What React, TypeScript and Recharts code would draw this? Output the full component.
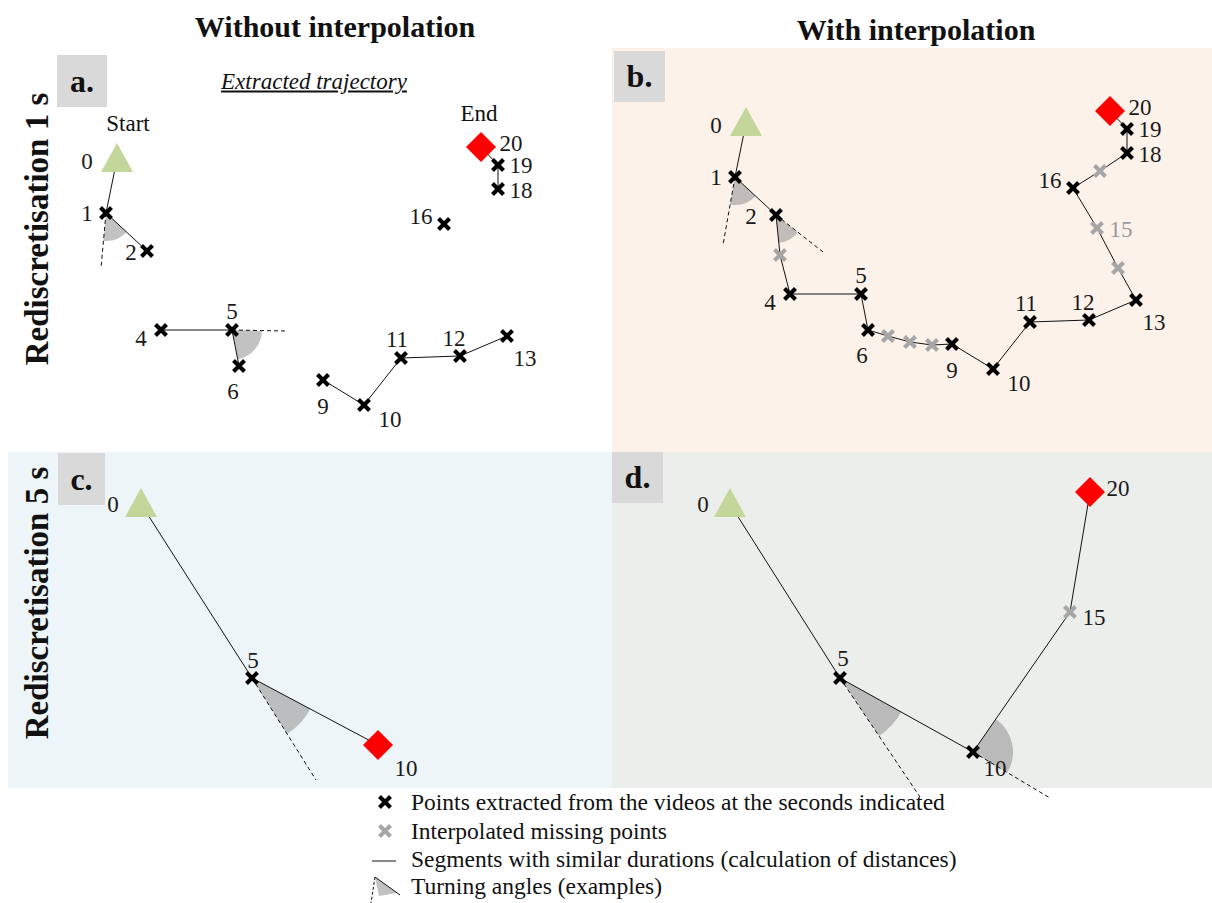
import { ScatterChart, Scatter, XAxis, YAxis } from "recharts";

const SERIF = '"Liberation Serif", "Times New Roman", Times, serif';

// 1 s rediscretisation, in panel b units (x to the right, y downwards)
const sec1X = [134, 123, 164, 168, 178, 249, 256, 276, 298, 320, 340, 381, 418, 477, 524, 506, 485, 461, 488, 515, 515, 498];
const sec1Y = [75, 129, 167, 207, 246, 246, 282, 288, 294, 297, 296, 321, 274, 272, 252, 220, 180, 140, 123, 105, 81, 63];
const sec1Label = ["0", "1", "2", "", "4", "5", "6", "", "", "", "9", "10", "11", "12", "13", "", "15", "16", "", "18", "19", "20"];
const sec1Kind = ["start", "obs", "obs", "interp", "obs", "obs", "obs", "interp", "interp", "interp", "obs", "obs", "obs", "obs", "obs", "interp", "interp", "obs", "interp", "obs", "obs", "end"];

// pieces that can be joined without interpolation (panel a)
const extractedRuns = [["0", "1", "2"], ["4", "5", "6"], ["9", "10", "11", "12", "13"], ["18", "19", "20"]];

// 5 s rediscretisation, without interpolation (panel c)
const sec5cX = [133, 244, 370];
const sec5cY = [52, 226, 293];
const sec5cLabel = ["0", "5", "10"];
const sec5cKind = ["start", "obs", "end"];

// 5 s rediscretisation, with interpolation (panel d)
const sec5dX = [118, 228, 361, 458, 478];
const sec5dY = [52, 226, 300, 160, 40];
const sec5dLabel = ["0", "5", "10", "15", "20"];
const sec5dKind = ["start", "obs", "obs", "interp", "end"];

// turning angles: vertex index, end of the dashed prolongation, next point index
const turnsA = [{ at: 1, ex: 118, ey: 184, next: 2 }, { at: 4, ex: 302, ey: 247, next: 5 }];
const turnsB = [{ at: 1, ex: 111, ey: 197, next: 2 }, { at: 2, ex: 211, ey: 204, next: 3 }];
const turnsC = [{ at: 1, ex: 308, ey: 328, next: 2 }];
const turnsD = [{ at: 1, ex: 308, ey: 345, next: 2 }, { at: 2, ex: 438, ey: 346, next: 3 }];

const legendItems = [
  "Points extracted from the videos at the seconds indicated",
  "Interpolated missing points",
  "Segments with similar durations (calculation of distances)",
  "Turning angles (examples)",
];

// layout only
const radiusA = [28, 30];
const radiusB = [28, 28];
const radiusC = [66];
const radiusD = [70, 40];

const offs1: Record<string, [number, number]> = {
  "0": [-30, 2], "1": [-19, 0], "2": [-25, 1], "4": [-20, 8], "5": [0, -19], "6": [-6, 25],
  "9": [0, 26], "10": [26, 14], "11": [-4, -19], "12": [-6, -18], "13": [18, 22], "15": [24, 1],
  "16": [-23, -8], "18": [23, 1], "19": [23, 0], "20": [30, -4],
};
const offsA = { ...offs1, "2": [-16, 1] as [number, number] };
const offsC: Record<string, [number, number]> = { "0": [-28, 0], "5": [1, -18], "10": [28, 23] };
const offsD: Record<string, [number, number]> = { "0": [-27, 0], "5": [3, -20], "10": [22, 16], "15": [24, 5], "20": [28, -4] };

type Pt = { x: number; y: number; label: string; kind: string };

const toPts = (xs: number[], ys: number[], labels: string[], kinds: string[]): Pt[] =>
  xs.map((x, i) => ({ x, y: ys[i], label: labels[i], kind: kinds[i] }));

const sec1 = toPts(sec1X, sec1Y, sec1Label, sec1Kind);
const sec1Extracted = sec1.filter((p) => p.kind !== "interp");
const sec5c = toPts(sec5cX, sec5cY, sec5cLabel, sec5cKind);
const sec5d = toPts(sec5dX, sec5dY, sec5dLabel, sec5dKind);

const Nothing = () => <g />;

function Cross({ cx, cy, color }: { cx: number; cy: number; color: string }) {
  const s = 5.5;
  return (
    <g stroke={color} strokeWidth={4}>
      <line x1={cx - s} y1={cy - s} x2={cx + s} y2={cy + s} />
      <line x1={cx - s} y1={cy + s} x2={cx + s} y2={cy - s} />
    </g>
  );
}

function Marker(props: any) {
  const { cx, cy, payload } = props;
  if (payload.kind === "start") {
    return <polygon points={`${cx},${cy - 16} ${cx - 16},${cy + 13} ${cx + 16},${cy + 13}`} fill="#c4d79b" />;
  }
  if (payload.kind === "end") {
    return <polygon points={`${cx},${cy - 15} ${cx + 15},${cy} ${cx},${cy + 15} ${cx - 15},${cy}`} fill="#ff0000" />;
  }
  return <Cross cx={cx} cy={cy} color={payload.kind === "interp" ? "#a6a6a6" : "#000"} />;
}

function Wedge(props: any) {
  const { cx, cy, payload } = props;
  const { a1, a2, r } = payload;
  let d = a2 - a1;
  while (d > Math.PI) d -= 2 * Math.PI;
  while (d <= -Math.PI) d += 2 * Math.PI;
  const sweep = d > 0 ? 1 : 0;
  const x1 = cx + r * Math.cos(a1);
  const y1 = cy + r * Math.sin(a1);
  const x2 = cx + r * Math.cos(a2);
  const y2 = cy + r * Math.sin(a2);
  return (
    <path
      d={`M${cx},${cy} L${x1},${y1} A${r},${r} 0 0 ${sweep} ${x2},${y2} Z`}
      fill="#8f8f8f"
      fillOpacity={0.55}
    />
  );
}

interface PanelProps {
  w: number;
  h: number;
  xMin: number;
  yMin: number;
  pts: Pt[];
  runs: Pt[][];
  turns: { at: number; ex: number; ey: number; next: number }[];
  radii: number[];
  offsets: Record<string, [number, number]>;
  greyInterpLabels?: boolean;
}

function TrajPanel({ w, h, xMin, yMin, pts, runs, turns, radii, offsets, greyInterpLabels }: PanelProps) {
  const wedges = turns.map((t, i) => {
    const v = pts[t.at];
    const n = pts[t.next];
    return {
      x: v.x,
      y: v.y,
      a1: Math.atan2(t.ey - v.y, t.ex - v.x),
      a2: Math.atan2(n.y - v.y, n.x - v.x),
      r: radii[i],
    };
  });

  const LabelShape = (props: any) => {
    const { cx, cy, payload } = props;
    const [dx, dy] = offsets[payload.label] || [0, 0];
    return (
      <text
        x={cx + dx}
        y={cy + dy}
        textAnchor="middle"
        dominantBaseline="central"
        fontFamily={SERIF}
        fontSize={23}
        fill={greyInterpLabels && payload.kind === "interp" ? "#9a9a9a" : "#1a1a1a"}
      >
        {payload.label}
      </text>
    );
  };

  return (
    <ScatterChart width={w} height={h} margin={{ top: 0, right: 0, bottom: 0, left: 0 }}>
      <XAxis type="number" dataKey="x" domain={[xMin, xMin + w]} hide allowDataOverflow />
      <YAxis type="number" dataKey="y" domain={[yMin, yMin + h]} hide reversed allowDataOverflow />
      {wedges.map((wd, i) => (
        <Scatter key={`w${i}`} data={[wd]} shape={Wedge} isAnimationActive={false} />
      ))}
      {runs.map((run, i) => (
        <Scatter
          key={`r${i}`}
          data={run}
          line={{ stroke: "#111", strokeWidth: 1 }}
          shape={Nothing}
          isAnimationActive={false}
        />
      ))}
      {turns.map((t, i) => (
        <Scatter
          key={`d${i}`}
          data={[pts[t.at], { x: t.ex, y: t.ey }]}
          line={{ stroke: "#111", strokeWidth: 1, strokeDasharray: "4 3" }}
          shape={Nothing}
          isAnimationActive={false}
        />
      ))}
      <Scatter data={pts} shape={Marker} isAnimationActive={false} />
      <Scatter data={pts.filter((p) => p.label)} shape={LabelShape} isAnimationActive={false} />
    </ScatterChart>
  );
}

const abs = (left: number, top: number, extra: React.CSSProperties = {}): React.CSSProperties => ({
  position: "absolute",
  left,
  top,
  ...extra,
});

const centered = (x: number, y: number, extra: React.CSSProperties = {}): React.CSSProperties => ({
  position: "absolute",
  left: x,
  top: y,
  transform: "translate(-50%, -50%)",
  whiteSpace: "nowrap",
  lineHeight: 1,
  ...extra,
});

function Tag({ x, y, w, h, text }: { x: number; y: number; w: number; h: number; text: string }) {
  return (
    <div
      style={abs(x, y, {
        width: w,
        height: h,
        background: "#d9d9d9",
        display: "flex",
        alignItems: "center",
        justifyContent: "center",
        fontWeight: "bold",
        fontSize: 32,
      })}
    >
      {text}
    </div>
  );
}

export default function App() {
  const runsA = extractedRuns.map((r) => r.map((l) => sec1Extracted.find((p) => p.label === l)!));

  return (
    <div
      style={{
        position: "absolute",
        left: 0,
        top: 0,
        width: 1212,
        height: 903,
        background: "#fff",
        fontFamily: SERIF,
        color: "#111",
        overflow: "hidden",
      }}
    >
      {/* panel backgrounds */}
      <div style={abs(612, 48, { width: 600, height: 404, background: "#fdf2ea" })} />
      <div style={abs(8, 452, { width: 604, height: 336, background: "#edf5f8" })} />
      <div style={abs(612, 452, { width: 600, height: 336, background: "#eceeeb" })} />

      <Tag x={57} y={55} w={50} h={52} text="a." />
      <Tag x={614} y={51} w={51} h={51} text="b." />
      <Tag x={58} y={453} w={47} h={52} text="c." />
      <Tag x={612} y={452} w={51} h={51} text="d." />

      {/* headings */}
      <div style={centered(335, 27, { fontWeight: "bold", fontSize: 30 })}>Without interpolation</div>
      <div style={centered(916, 30, { fontWeight: "bold", fontSize: 30 })}>With interpolation</div>
      <div style={centered(37, 229, { fontWeight: "bold", fontSize: 33, transform: "translate(-50%, -50%) rotate(-90deg)" })}>
        Rediscretisation 1 s
      </div>
      <div style={centered(37, 603, { fontWeight: "bold", fontSize: 33, transform: "translate(-50%, -50%) rotate(-90deg)" })}>
        Rediscretisation 5 s
      </div>
      <div style={centered(314, 81, { fontStyle: "italic", textDecoration: "underline", fontSize: 23 })}>
        Extracted trajectory
      </div>
      <div style={centered(128, 123, { fontSize: 23 })}>Start</div>
      <div style={centered(479, 113, { fontSize: 23 })}>End</div>

      {/* charts */}
      <div style={abs(8, 48)}>
        <TrajPanel w={604} h={402} xMin={25} yMin={-36} pts={sec1Extracted} runs={runsA} turns={turnsA} radii={radiusA} offsets={offsA} />
      </div>
      <div style={abs(612, 48)}>
        <TrajPanel w={600} h={402} xMin={0} yMin={0} pts={sec1} runs={[sec1]} turns={turnsB} radii={radiusB} offsets={offs1} greyInterpLabels />
      </div>
      <div style={abs(8, 452)}>
        <TrajPanel w={604} h={350} xMin={0} yMin={0} pts={sec5c} runs={[sec5c]} turns={turnsC} radii={radiusC} offsets={offsC} />
      </div>
      <div style={abs(612, 452)}>
        <TrajPanel w={600} h={350} xMin={0} yMin={0} pts={sec5d} runs={[sec5d]} turns={turnsD} radii={radiusD} offsets={offsD} />
      </div>

      {/* legend */}
      <svg style={abs(360, 785)} width={50} height={118}>
        <Cross cx={25} cy={17} color="#000" />
        <Cross cx={25} cy={46} color="#a6a6a6" />
        <line x1={12} y1={76} x2={36} y2={76} stroke="#111" strokeWidth={1} />
        <path d="M15,92 L37,108 L19,111 Z" fill="#8f8f8f" fillOpacity={0.55} />
        <line x1={15} y1={92} x2={40} y2={110} stroke="#111" strokeWidth={1} />
        <line x1={15} y1={92} x2={11} y2={118} stroke="#111" strokeWidth={1} strokeDasharray="3 2" />
      </svg>
      {legendItems.map((t, i) => (
        <div key={t} style={abs(411, [802, 831, 859, 886][i] - 13, { fontSize: 23.5, lineHeight: "26px", whiteSpace: "nowrap" })}>
          {t}
        </div>
      ))}
    </div>
  );
}
